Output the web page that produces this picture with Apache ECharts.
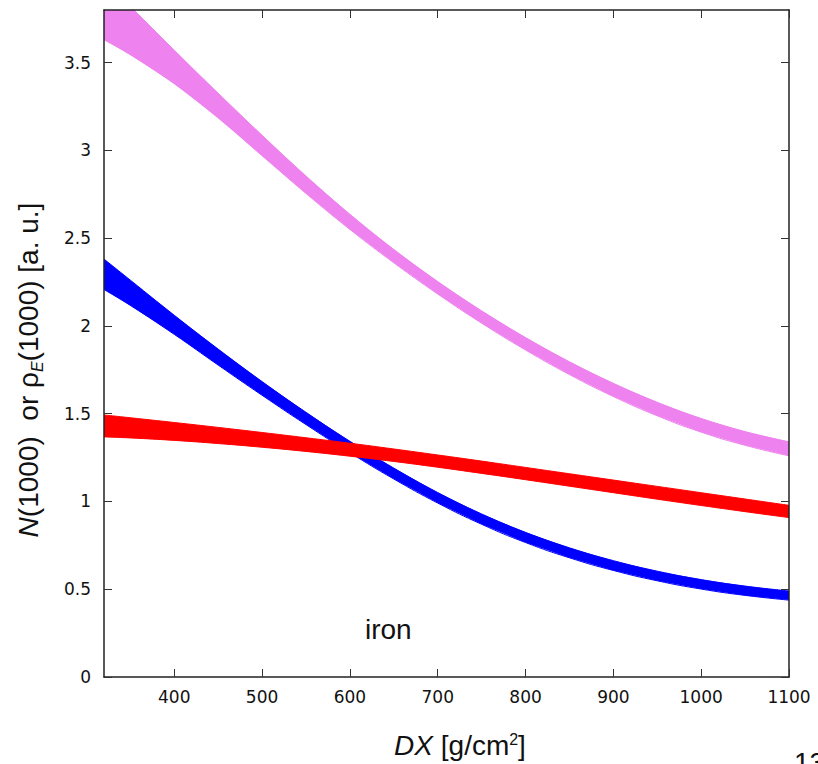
<!DOCTYPE html>
<html><head><meta charset="utf-8">
<script src="https://cdn.jsdelivr.net/npm/echarts@6/dist/echarts.min.js"></script>
<style>html,body{margin:0;padding:0;background:#fff}#c{width:818px;height:764px}</style>
</head><body><div id="c"></div>
<script>
// DX positions (g/cm^2)
const xs = [320, 350, 400, 450, 500, 550, 600, 650, 700, 750, 800, 850, 900, 950, 1000, 1050, 1100];
// violet band (lower / upper envelope)
const pinkLow  = [3.63, 3.545, 3.38, 3.185, 2.97, 2.755, 2.55, 2.36, 2.182, 2.016, 1.863, 1.723, 1.598, 1.488, 1.395, 1.32, 1.26];
const pinkHigh = [3.971, 3.821, 3.571, 3.326, 3.086, 2.854, 2.636, 2.436, 2.253, 2.086, 1.934, 1.796, 1.673, 1.565, 1.473, 1.398, 1.34];
// blue band
const blueLow  = [2.207, 2.117, 1.952, 1.777, 1.605, 1.438, 1.278, 1.128, 0.991, 0.87, 0.766, 0.679, 0.607, 0.548, 0.501, 0.465, 0.438];
const blueHigh = [2.381, 2.261, 2.061, 1.868, 1.683, 1.508, 1.343, 1.19, 1.051, 0.929, 0.824, 0.736, 0.663, 0.603, 0.555, 0.518, 0.49];
// red band
const redLow   = [1.368, 1.362, 1.348, 1.33, 1.309, 1.285, 1.258, 1.228, 1.195, 1.16, 1.124, 1.087, 1.05, 1.013, 0.977, 0.942, 0.908];
const redHigh  = [1.493, 1.477, 1.45, 1.422, 1.393, 1.363, 1.332, 1.299, 1.265, 1.23, 1.194, 1.158, 1.122, 1.086, 1.05, 1.014, 0.978];
// tick labels
const xTicks = [400, 500, 600, 700, 800, 900, 1000, 1100];
const yTicks = [0, 0.5, 1, 1.5, 2, 2.5, 3, 3.5];

const chart = echarts.init(document.getElementById('c'), null, {renderer: 'svg'});
function pairs(ys) { return xs.map((x, i) => [x, ys[i]]); }
function band(name, lo, hi, color, z) {
  const fill = {
    name: name + '-band', type: 'custom', clip: true, silent: true, z: z,
    data: [0],
    renderItem: function (params, api) {
      const pts = [];
      for (let i = 0; i < xs.length; i++) pts.push(api.coord([xs[i], hi[i]]));
      for (let i = xs.length - 1; i >= 0; i--) pts.push(api.coord([xs[i], lo[i]]));
      return {type: 'polygon', shape: {points: pts}, style: {fill: color, stroke: null}};
    }
  };
  const edge = (ys, tag) => ({name: name + tag, type: 'line', data: pairs(ys), smooth: true, symbol: 'none', z: z,
    lineStyle: {color: color, width: 1}, itemStyle: {color: color}, silent: true, clip: true});
  return [fill, edge(lo, '-low'), edge(hi, '-high')];
}
const lineC = '#222';
const fmt = v => String(v);
function xAx(pos, showLabel) {
  return {type: 'value', min: 320, max: 1100, position: pos,
    axisLine: {show: true, onZero: false, lineStyle: {color: lineC, width: 1.5}},
    axisTick: {show: true, inside: true, length: 8, customValues: xTicks, lineStyle: {color: '#333', width: 1}},
    axisLabel: {show: showLabel, customValues: xTicks, formatter: fmt, color: '#111', fontSize: 17, fontFamily: 'DejaVu Sans', margin: 11},
    splitLine: {show: false}, z: 10};
}
function yAx(pos, showLabel) {
  return {type: 'value', min: 0, max: 3.8, position: pos,
    axisLine: {show: true, onZero: false, lineStyle: {color: lineC, width: 1.5}},
    axisTick: {show: true, inside: true, length: 8, customValues: yTicks, lineStyle: {color: '#333', width: 1}},
    axisLabel: {show: showLabel, customValues: yTicks, formatter: fmt, color: '#111', fontSize: 17, fontFamily: 'DejaVu Sans', margin: 13},
    splitLine: {show: false}, z: 10};
}
const ff = 'Liberation Sans, Arial, sans-serif';
chart.setOption({
  animation: false,
  backgroundColor: '#fff',
  grid: {left: 104, right: 29, top: 10, bottom: 87, containLabel: false},
  xAxis: [xAx('bottom', true), xAx('top', false)],
  yAxis: [yAx('left', true), yAx('right', false)],
  series: [].concat(
    band('pink', pinkLow, pinkHigh, '#ee82ee', 2),
    band('blue', blueLow, blueHigh, '#0000ff', 3),
    band('red', redLow, redHigh, '#ff0000', 4)
  ),
  graphic: [
    {type: 'text', x: 28, y: 370, rotation: Math.PI / 2, silent: true,
     style: {text: '{it|N}(1000)  or ρ{sub|E}(1000) [a. u.]', fontSize: 28, fontFamily: ff, fill: '#111',
       lineHeight: 36, align: 'center', verticalAlign: 'middle',
       rich: {it: {fontStyle: 'italic', fontSize: 28, fontFamily: ff, fill: '#111', lineHeight: 36},
              sub: {fontStyle: 'italic', fontSize: 16, fontFamily: ff, fill: '#111', lineHeight: 16, padding: [19, 0, 0, 0]}}}},
    {type: 'text', x: 460, y: 745, silent: true,
     style: {text: '{it|DX} [g/cm{sup|2}]', fontSize: 28, fontFamily: ff, fill: '#111', lineHeight: 34,
       align: 'center', verticalAlign: 'middle',
       rich: {it: {fontStyle: 'italic', fontSize: 28, fontFamily: ff, fill: '#111', lineHeight: 34},
              sup: {fontSize: 16, fontFamily: ff, fill: '#111', lineHeight: 16, padding: [0, 0, 12, 0]}}}},
    {type: 'text', x: 365, y: 629, silent: true,
     style: {text: 'iron', fontSize: 28, fontFamily: ff, fill: '#111', align: 'left', verticalAlign: 'middle'}},
    {type: 'text', x: 794, y: 762, silent: true,
     style: {text: '13', fontSize: 28, fontFamily: ff, fill: '#111', align: 'left', verticalAlign: 'middle'}}
  ]
});
</script></body></html>
